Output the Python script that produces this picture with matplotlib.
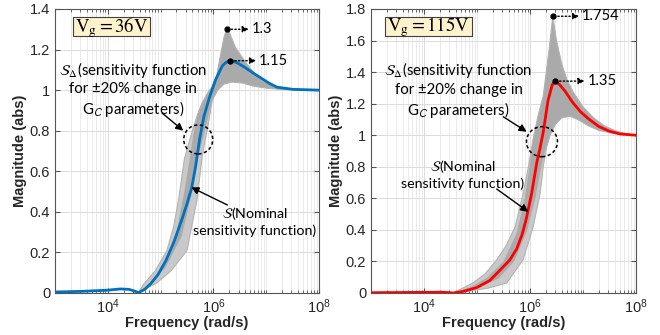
import numpy as np
import matplotlib
matplotlib.use("Agg")
import matplotlib.pyplot as plt
from matplotlib.patches import Ellipse, Rectangle
from matplotlib.ticker import LogLocator, FixedLocator, FuncFormatter, NullFormatter

plt.rcParams['mathtext.fontset'] = 'stix'
plt.rcParams['font.family'] = ['Liberation Sans', 'DejaVu Sans']

# ---------------- data (log10 of frequency in rad/s, magnitude) ----------------
# Left panel: Vg = 36 V
L_nom_logf = [3.0, 3.5, 4.0, 4.24, 4.4, 4.5, 4.58, 4.7, 4.81, 4.95, 5.1, 5.25, 5.4, 5.5,
              5.59, 5.66, 5.74, 5.82, 5.92, 6.04, 6.17, 6.24, 6.31, 6.38, 6.45, 6.58,
              6.75, 6.9, 7.05, 7.2, 7.5, 8.0]
L_nom_mag = [0.005, 0.008, 0.014, 0.02, 0.018, 0.01, 0.002, 0.018, 0.045, 0.09, 0.16, 0.25,
             0.36, 0.44, 0.52, 0.62, 0.76, 0.87, 0.96, 1.05, 1.12, 1.137, 1.145, 1.142,
             1.135, 1.115, 1.085, 1.06, 1.035, 1.015, 1.004, 1.0]
# outer envelope of the +/-20 % family
L_up_logf = [4.58, 4.67, 4.9, 5.12, 5.25, 5.34, 5.45, 5.6, 5.7, 5.79, 5.9, 5.98, 6.06,
             6.14, 6.2, 6.25, 6.3, 6.42, 6.58, 6.75, 6.9, 7.05, 7.2, 7.5, 8.0]
L_up_mag = [0.002, 0.04, 0.11, 0.21, 0.33, 0.46, 0.66, 0.80, 0.88, 0.94, 0.99, 1.02, 1.07,
            1.18, 1.26, 1.30, 1.285, 1.21, 1.148, 1.09, 1.05, 1.03, 1.015, 1.004, 1.0]
L_lo_logf = [4.58, 4.93, 5.2, 5.5, 5.69, 5.79, 5.88, 5.98, 6.08, 6.2, 6.35, 6.55, 6.75,
             7.0, 7.3, 8.0]
L_lo_mag = [0.002, 0.05, 0.11, 0.21, 0.46, 0.68, 0.80, 0.95, 1.0, 1.03, 1.04, 1.035,
            1.02, 1.01, 1.003, 1.0]
# dense core of the family
L_cup_logf = [4.58, 4.8, 5.05, 5.3, 5.45, 5.55, 5.62, 5.7, 5.79, 5.9, 5.98, 6.06,
              6.14, 6.2, 6.25, 6.3, 6.42, 6.58, 6.75, 6.9, 7.05, 7.2, 7.5, 8.0]
L_cup_mag = [0.002, 0.05, 0.14, 0.30, 0.50, 0.66, 0.78, 0.88, 0.94, 0.99, 1.02, 1.07,
             1.18, 1.26, 1.30, 1.285, 1.21, 1.148, 1.09, 1.05, 1.03, 1.015, 1.004, 1.0]
L_clo_logf = [4.58, 4.85, 5.1, 5.4, 5.6, 5.72, 5.84, 5.93, 5.98, 6.08, 6.2, 6.35, 6.55,
              6.75, 7.0, 7.3, 8.0]
L_clo_mag = [0.002, 0.05, 0.13, 0.28, 0.50, 0.68, 0.80, 0.90, 0.95, 1.0, 1.03, 1.04,
             1.035, 1.02, 1.01, 1.003, 1.0]

# Right panel: Vg = 115 V
R_nom_logf = [3.0, 3.5, 4.0, 4.3, 4.45, 4.55, 4.74, 5.0, 5.245, 5.45, 5.62, 5.75, 5.85,
              5.93, 6.03, 6.13, 6.19, 6.25, 6.34, 6.42, 6.48, 6.56, 6.66, 6.8, 6.95,
              7.1, 7.3, 7.5, 7.7, 8.0]
R_nom_mag = [0.002, 0.003, 0.004, 0.005, 0.003, 0.0, 0.01, 0.035, 0.08, 0.15, 0.21, 0.28,
             0.37, 0.47, 0.63, 0.83, 0.92, 1.02, 1.22, 1.32, 1.343, 1.32, 1.28, 1.21,
             1.15, 1.105, 1.055, 1.025, 1.008, 1.0]
R_up_logf = [4.55, 4.92, 5.15, 5.37, 5.55, 5.72, 5.87, 5.97, 6.06, 6.15, 6.25, 6.36, 6.43,
             6.5, 6.6, 6.7, 6.82, 7.0, 7.2, 7.4, 7.6, 7.8, 8.0]
R_up_mag = [0.0, 0.063, 0.12, 0.21, 0.30, 0.42, 0.63, 0.80, 0.98, 1.12, 1.25, 1.54, 1.754,
            1.60, 1.45, 1.35, 1.27, 1.18, 1.11, 1.06, 1.03, 1.01, 1.0]
R_lo_logf = [4.55, 4.8, 5.2, 5.56, 5.87, 6.06, 6.19, 6.25, 6.31, 6.38, 6.48, 6.6, 6.75,
             6.9, 7.1, 7.3, 7.6, 8.0]
R_lo_mag = [0.0, 0.01, 0.03, 0.063, 0.21, 0.42, 0.63, 0.80, 0.92, 1.0, 1.07, 1.11, 1.12,
            1.10, 1.06, 1.03, 1.01, 1.0]
R_cup_logf = [4.55, 4.9, 5.2, 5.5, 5.75, 5.9, 6.0, 6.06, 6.15, 6.25, 6.36, 6.43,
              6.5, 6.6, 6.7, 6.82, 7.0, 7.2, 7.4, 7.6, 7.8, 8.0]
R_cup_mag = [0.0, 0.04, 0.10, 0.20, 0.38, 0.60, 0.82, 0.98, 1.12, 1.25, 1.54, 1.754,
             1.60, 1.45, 1.35, 1.27, 1.18, 1.11, 1.06, 1.03, 1.01, 1.0]
R_clo_logf = [4.55, 5.0, 5.4, 5.7, 5.95, 6.1, 6.2, 6.28, 6.38, 6.48, 6.6, 6.75,
              6.9, 7.1, 7.3, 7.6, 8.0]
R_clo_mag = [0.0, 0.03, 0.09, 0.20, 0.40, 0.60, 0.78, 0.90, 1.0, 1.07, 1.11, 1.12,
             1.10, 1.06, 1.03, 1.01, 1.0]

L_peaks = {'gray': (6.25, 1.30, '1.3'), 'nom': (6.31, 1.145, '1.15')}
R_peaks = {'gray': (6.43, 1.754, '1.754'), 'nom': (6.48, 1.343, '1.35')}

L_ylim, L_yticks = (0, 1.4), [0, 0.2, 0.4, 0.6, 0.8, 1.0, 1.2, 1.4]
R_ylim, R_yticks = (0, 1.8), [0, 0.2, 0.4, 0.6, 0.8, 1.0, 1.2, 1.4, 1.6, 1.8]

GRAY_OUT = '#c9c9c9'
GRAY_CORE = '#aaaaaa'
GRAY_LINE = '#b3b3b3'
BLUE = '#0072BD'
RED = '#ff0000'
AXC = '#555555'

fig = plt.figure(figsize=(6.6, 3.35), dpi=100)
ax1 = fig.add_axes([55/660, 42/335, 264/660, 284/335])
ax2 = fig.add_axes([371/660, 42/335, 265/660, 284/335])


def style_axes(ax, ylim, yticks):
    ax.set_xscale('log')
    ax.set_xlim(1e3, 1e8)
    ax.set_ylim(*ylim)
    ax.xaxis.set_major_locator(FixedLocator([1e4, 1e6, 1e8]))
    ax.xaxis.set_minor_locator(LogLocator(base=10, subs=np.arange(1, 10), numticks=50))
    ax.xaxis.set_minor_formatter(NullFormatter())
    ax.xaxis.set_major_formatter(
        FuncFormatter(lambda v, p: r'$\mathdefault{10^{%d}}$' % round(np.log10(v))))
    ax.set_yticks(yticks)
    ax.yaxis.set_major_formatter(FuncFormatter(lambda v, p: '%g' % round(v, 2)))
    ax.grid(True, which='major', color='#dcdcdc', lw=0.7)
    ax.grid(True, which='minor', axis='x', color='#e6e6e6', lw=0.6)
    ax.set_axisbelow(True)
    for s in ax.spines.values():
        s.set_color(AXC)
        s.set_linewidth(0.8)
    ax.tick_params(which='both', direction='in', top=True, right=True, colors=AXC,
                   labelcolor='#262626', labelsize=10.5)
    ax.tick_params(which='major', length=3.5)
    ax.tick_params(which='minor', length=2)
    ax.set_xlabel('Frequency (rad/s)', fontweight='bold', fontsize=10.5, labelpad=0,
                  color='#262626')
    ax.set_ylabel('Magnitude (abs)', fontweight='bold', fontsize=10.5, labelpad=2,
                  color='#262626')


def fill_band(ax, up_lf, up_m, lo_lf, lo_m, color):
    xs = np.concatenate([10**np.array(up_lf), (10**np.array(lo_lf))[::-1]])
    ys = np.concatenate([np.array(up_m), np.array(lo_m)[::-1]])
    ax.fill(xs, ys, color=color, lw=0, zorder=2)


def band(ax, up_lf, up_m, lo_lf, lo_m, cup_lf, cup_m, clo_lf, clo_m):
    fill_band(ax, up_lf, up_m, lo_lf, lo_m, GRAY_OUT)
    fill_band(ax, cup_lf, cup_m, clo_lf, clo_m, GRAY_CORE)
    ax.plot(10**np.array(up_lf), up_m, color=GRAY_LINE, lw=0.8, zorder=2)
    ax.plot(10**np.array(lo_lf), lo_m, color=GRAY_LINE, lw=0.8, zorder=2)


def peak_mark(ax, lf, m, label, off):
    ax.plot([10**lf], [m], 'o', color='k', ms=3.5, zorder=5)
    ax.annotate(label, xy=(10**lf, m), xytext=(off, 0), textcoords='offset points',
                ha='left', va='center', fontsize=10.5, family=['Lato', 'DejaVu Sans'],
                arrowprops=dict(arrowstyle='<|-', linestyle=':', color='k', lw=1.0,
                                mutation_scale=9, shrinkA=0, shrinkB=1.5), zorder=6)


def circle(ax, lf, m, wpx, hpx, wax, hax):
    cx, cy = ax.transAxes.inverted().transform(ax.transData.transform((10**lf, m)))
    e = Ellipse((cx, cy), wpx/wax, hpx/hax, transform=ax.transAxes, fill=False,
                ec='k', lw=1.1, ls=(0, (2.2, 1.6)), zorder=6)
    ax.add_patch(e)


def arrow(ax, tail, head):
    ax.annotate('', xy=(10**head[0], head[1]), xytext=(10**tail[0], tail[1]),
                arrowprops=dict(arrowstyle='-|>', color='k', lw=1.0, mutation_scale=11,
                                shrinkA=0, shrinkB=0), zorder=7)


def vbox(ax, x0, y0, x1, y1, label):
    ax.add_patch(Rectangle((x0, y0), x1 - x0, y1 - y0, transform=ax.transAxes,
                           fc='#FFF2CC', ec='#404040', lw=0.8, zorder=8))
    ax.text((x0 + x1) / 2, (y0 + y1) / 2 - 0.003, label, transform=ax.transAxes,
            ha='center', va='center', fontsize=13.5, zorder=9)


ANN_FONT = ['Lato', 'DejaVu Sans']
SD_TEXT = ('$\\mathcal{S}_{\\Delta}$(sensitivity function\nfor ±20% change in\n'
           'G$_{\\mathsf{C}}$ parameters)')
SN_TEXT = '$\\mathcal{S}$(Nominal\nsensitivity function)'

# ---------------- left panel ----------------
style_axes(ax1, L_ylim, L_yticks)
band(ax1, L_up_logf, L_up_mag, L_lo_logf, L_lo_mag,
     L_cup_logf, L_cup_mag, L_clo_logf, L_clo_mag)
ax1.plot(10**np.array(L_nom_logf), L_nom_mag, color=BLUE, lw=2.0, zorder=4)
peak_mark(ax1, *L_peaks['gray'], 18)
peak_mark(ax1, *L_peaks['nom'], 21)
circle(ax1, 5.713, 0.757, 29, 29, 264, 284)
arrow(ax1, (5.03, 0.887), (5.43, 0.80))
arrow(ax1, (6.264, 0.434), (5.58, 0.521))
vbox(ax1, 0.067, 0.905, 0.36, 0.973, r'$\mathrm{V_g = 36V}$')
ax1.text(10**4.483, 1.005, SD_TEXT, ha='center', va='center', fontsize=10.8,
         family=ANN_FONT, linespacing=1.2, zorder=8)
ax1.text(10**6.783, 0.355, SN_TEXT, ha='center', va='center', fontsize=10.3,
         family=ANN_FONT, linespacing=1.2, zorder=8)

# ---------------- right panel ----------------
style_axes(ax2, R_ylim, R_yticks)
band(ax2, R_up_logf, R_up_mag, R_lo_logf, R_lo_mag,
     R_cup_logf, R_cup_mag, R_clo_logf, R_clo_mag)
ax2.plot(10**np.array(R_nom_logf), R_nom_mag, color=RED, lw=2.0, zorder=4)
peak_mark(ax2, *R_peaks['gray'], 21)
peak_mark(ax2, *R_peaks['nom'], 23)
circle(ax2, 6.226, 0.959, 31, 30, 265, 284)
arrow(ax2, (5.496, 1.117), (5.938, 1.022))
arrow(ax2, (5.372, 0.659), (5.968, 0.515))
vbox(ax2, 0.053, 0.905, 0.38, 0.973, r'$\mathrm{V_g = 115V}$')
ax2.text(10**4.651, 1.286, SD_TEXT, ha='center', va='center', fontsize=10.8,
         family=ANN_FONT, linespacing=1.2, zorder=8)
ax2.text(10**4.736, 0.754, SN_TEXT, ha='center', va='center', fontsize=10.3,
         family=ANN_FONT, linespacing=1.2, zorder=8)

fig.savefig('out.png', dpi=100, facecolor='white')
